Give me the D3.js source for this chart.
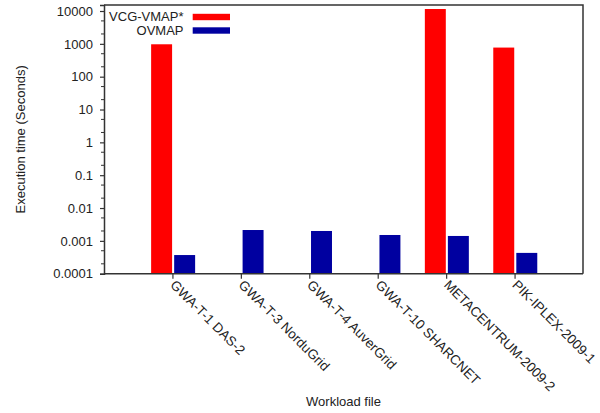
<!DOCTYPE html>
<html>
<head>
<meta charset="utf-8">
<script src="https://cdn.jsdelivr.net/npm/d3@7"></script>
<style>
  html, body { margin: 0; padding: 0; background: #fff; }
  svg { display: block; font-family: "Liberation Sans", Arial, sans-serif; }
</style>
</head>
<body>
<svg id="chart" width="600" height="413"></svg>
<script>
// Workload files on the x axis
const categories = [
  "GWA-T-1 DAS-2",
  "GWA-T-3 NorduGrid",
  "GWA-T-4 AuverGrid",
  "GWA-T-10 SHARCNET",
  "METACENTRUM-2009-2",
  "PIK-IPLEX-2009-1"
];
// Execution time in seconds (null = not run)
const vcgVmap = [970, null, null, null, 11500, 770];
const ovmap   = [0.00037, 0.00214, 0.002, 0.00151, 0.00141, 0.00043];
const seriesNames = ["VCG-VMAP*", "OVMAP"];
const seriesColors = ["#ff0000", "#0000a0"];
const yTicks = [0.0001, 0.001, 0.01, 0.1, 1, 10, 100, 1000, 10000];
const yTickLabels = ["0.0001", "0.001", "0.01", "0.1", "1", "10", "100", "1000", "10000"];

const svg = d3.select("#chart");
const m = { left: 104, right: 583, top: 5, bottom: 273.7 };
const axisColor = "#333";
const textColor = "#222";
const yMax = 15240;

const x = d3.scalePoint().domain(categories).range([m.left, m.right]).padding(1);
const inner = d3.scaleBand().domain(seriesNames).range([-21.3, 22.7]).paddingInner(0.09);
const y = d3.scaleLog().domain([0.0001, yMax]).range([m.bottom, m.top]);

// Bars
const rows = categories.map((c, i) => ({ c, values: [vcgVmap[i], ovmap[i]] }));
const g = svg.append("g");
rows.forEach(r => {
  r.values.forEach((v, k) => {
    if (v == null) return;
    g.append("rect")
      .attr("x", x(r.c) + inner(seriesNames[k]))
      .attr("width", inner.bandwidth())
      .attr("y", y(v))
      .attr("height", y(0.0001) - y(v))
      .attr("fill", seriesColors[k]);
  });
});

// Frame (top and right)
svg.append("path")
  .attr("d", `M${m.left},${m.top}H${m.right}V${m.bottom}`)
  .attr("fill", "none").attr("stroke", axisColor).attr("stroke-width", 1.5);

// Y axis with major ticks
const yAxis = d3.axisLeft(y).tickValues(yTicks)
  .tickFormat((d, i) => yTickLabels[i]).tickSize(4).tickPadding(7);
const ya = svg.append("g").attr("transform", `translate(${m.left},0)`).call(yAxis);
ya.select(".domain").attr("stroke", axisColor).attr("stroke-width", 1.5);
ya.selectAll(".tick line").attr("stroke", axisColor).attr("stroke-width", 1.2);
ya.selectAll(".tick text").attr("fill", textColor)
  .style("font-size", "13px").style("font-family", "Liberation Sans, Arial, sans-serif");

// Minor ticks at 2x and 5x of each decade
const minor = [];
yTicks.slice(0, -1).forEach(d => { minor.push(d * 2, d * 5); });
svg.append("g").selectAll("line").data(minor)
  .join("line")
  .attr("x1", m.left - 3).attr("x2", m.left)
  .attr("y1", d => y(d)).attr("y2", d => y(d))
  .attr("stroke", axisColor).attr("stroke-width", 1);

// X axis
const xAxis = d3.axisBottom(x).tickSize(5).tickFormat("");
const xa = svg.append("g").attr("transform", `translate(0,${m.bottom})`).call(xAxis);
xa.select(".domain").attr("stroke", axisColor).attr("stroke-width", 1.5)
  .attr("d", `M${m.left},0H${m.right}`);
xa.selectAll(".tick line").attr("stroke", axisColor).attr("stroke-width", 1.2);

// Rotated category labels
svg.append("g").selectAll("text").data(categories).join("text")
  .attr("transform", d => `translate(${x(d) - 3},${m.bottom + 12}) rotate(45)`)
  .attr("text-anchor", "start")
  .attr("fill", textColor)
  .style("font-size", "13.5px")
  .text(d => d);

// Axis titles
svg.append("text")
  .attr("transform", `translate(25,${(m.top + m.bottom) / 2}) rotate(-90)`)
  .attr("text-anchor", "middle").attr("fill", textColor)
  .style("font-size", "13px")
  .text("Execution time (Seconds)");
svg.append("text")
  .attr("x", (m.left + m.right) / 2).attr("y", 406)
  .attr("text-anchor", "middle").attr("fill", textColor)
  .style("font-size", "13px")
  .text("Workload file");

// Legend
const legend = svg.append("g");
seriesNames.forEach((name, k) => {
  const yy = 17 + k * 13.5;
  legend.append("text")
    .attr("x", 183.5).attr("y", yy + 4)
    .attr("text-anchor", "end").attr("fill", textColor)
    .style("font-size", "13px")
    .text(name);
  legend.append("rect")
    .attr("x", 192.7).attr("y", yy - 3.2)
    .attr("width", 37.3).attr("height", 6.4)
    .attr("fill", seriesColors[k]);
});
</script>
</body>
</html>
